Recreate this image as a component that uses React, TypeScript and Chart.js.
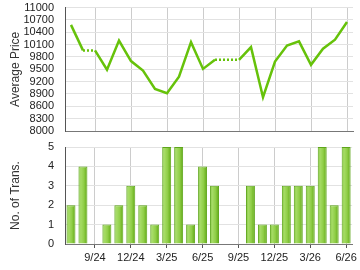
import React, { useEffect, useRef } from "react";
import { Chart, registerables } from "chart.js";

Chart.register(...registerables);

const months = [
  "7/24", "8/24", "9/24", "10/24", "11/24", "12/24",
  "1/25", "2/25", "3/25", "4/25", "5/25", "6/25",
  "7/25", "8/25", "9/25", "10/25", "11/25", "12/25",
  "1/26", "2/26", "3/26", "4/26", "5/26", "6/26",
];
const tickLabels = ["9/24", "12/24", "3/25", "6/25", "9/25", "12/25", "3/26", "6/26"];
const avgPrice = [
  10580, 9960, 9960, 9490, 10200, 9700,
  9470, 9020, 8920, 9320, 10160, 9510,
  9730, 9730, 9730, 10040, 8820, 9690,
  10080, 10180, 9610, 10000, 10220, 10650,
];
// segments starting at these indices are drawn dotted (months without transactions)
const dottedFrom = [1, 12, 13];
const transactions = [2, 4, 0, 1, 2, 3, 2, 1, 5, 5, 1, 4, 3, 0, 0, 3, 1, 1, 3, 3, 3, 5, 2, 5];

const FONT = "'Liberation Sans', Arial, sans-serif";
const LEFT_W = 65;
const W = 360;

function tickCb(this: any, _v: any, i: number) {
  const l = months[i];
  return tickLabels.includes(l) ? l : null;
}

export default function App() {
  const topRef = useRef<HTMLCanvasElement>(null);
  const botRef = useRef<HTMLCanvasElement>(null);

  useEffect(() => {
    const top = new Chart(topRef.current!, {
      type: "line",
      data: {
        labels: months,
        datasets: [
          {
            data: avgPrice,
            borderColor: "#66c20a",
            borderWidth: 2.5,
            pointRadius: 0,
            tension: 0,
            fill: false,
            segment: {
              borderDash: (ctx: any) => (dottedFrom.includes(ctx.p0DataIndex) ? [2, 2] : undefined),
            },
          },
        ],
      },
      options: {
        responsive: false,
        animation: false,
        events: [],
        layout: { padding: { top: 7, bottom: 9, right: 7, left: 0 } },
        plugins: { legend: { display: false }, tooltip: { enabled: false } },
        scales: {
          x: {
            type: "category",
            offset: true,
            grid: { offset: false, color: "#cccccc", drawTicks: false },
            border: { color: "#777777", width: 1 },
            ticks: { display: true, autoSkip: false, callback: tickCb, font: { size: 1 }, color: "rgba(0,0,0,0)", padding: 0 },
            afterFit: (s: any) => { s.height = 0; },
          },
          y: {
            min: 8000,
            max: 11000,
            grid: { color: "#e2e2e2", drawTicks: true, tickLength: 10, tickColor: "rgba(0,0,0,0)" },
            border: { color: "#555555", width: 1 },
            ticks: { stepSize: 300, autoSkip: false, padding: 1, color: "#222222", font: { family: FONT, size: 11 }, callback: (v: any) => String(v) },
            title: { display: true, text: "Average Price", color: "#333333", font: { family: FONT, size: 12 }, padding: { top: 8, bottom: 0 } },
            afterFit: (s: any) => { s.width = LEFT_W; },
          },
        },
      },
    } as any);

    const barBg = (ctx: any) => {
      const chart = ctx.chart;
      const xs = chart.scales && chart.scales.x;
      if (!xs || !chart.chartArea) return "#8cc63f";
      const cx = xs.getPixelForValue(ctx.dataIndex);
      const g = chart.ctx.createLinearGradient(cx - 4.5, 0, cx + 4.5, 0);
      g.addColorStop(0, "#78c030");
      g.addColorStop(0.25, "#a6dc66");
      g.addColorStop(0.6, "#90ce48");
      g.addColorStop(1, "#5fa812");
      return g;
    };

    const bot = new Chart(botRef.current!, {
      type: "bar",
      data: {
        labels: months,
        datasets: [
          {
            data: transactions,
            backgroundColor: barBg,
            borderColor: "#5ea61a",
            borderWidth: 1,
            barPercentage: 0.75,
            categoryPercentage: 1,
          },
        ],
      },
      options: {
        responsive: false,
        animation: false,
        events: [],
        layout: { padding: { top: 12, bottom: 0, right: 7, left: 0 } },
        plugins: { legend: { display: false }, tooltip: { enabled: false } },
        scales: {
          x: {
            type: "category",
            offset: true,
            grid: { offset: false, color: "#cccccc", drawTicks: true, tickLength: 4, tickColor: "#555555" },
            border: { color: "#777777", width: 1 },
            ticks: { autoSkip: false, maxRotation: 0, callback: tickCb, padding: 3, color: "#222222", font: { family: FONT, size: 11 } },
            afterFit: (s: any) => { s.height = 26; },
          },
          y: {
            min: 0,
            max: 5,
            grid: { color: "#e2e2e2", drawTicks: true, tickLength: 10, tickColor: "rgba(0,0,0,0)" },
            border: { color: "#555555", width: 1 },
            ticks: { stepSize: 1, autoSkip: false, padding: 1, color: "#222222", font: { family: FONT, size: 11 } },
            title: { display: true, text: "No. of Trans.", color: "#333333", font: { family: FONT, size: 12 }, padding: { top: 8, bottom: 0 } },
            afterFit: (s: any) => { s.width = LEFT_W; },
          },
        },
      },
    } as any);

    return () => {
      top.destroy();
      bot.destroy();
    };
  }, []);

  return (
    <div style={{ position: "absolute", left: 0, top: 0, width: W, height: 270, background: "#ffffff" }}>
      <canvas ref={topRef} width={W} height={140} style={{ position: "absolute", left: 0, top: 0, width: W, height: 140 }} />
      <canvas ref={botRef} width={W} height={135} style={{ position: "absolute", left: 0, top: 135, width: W, height: 135 }} />
    </div>
  );
}
